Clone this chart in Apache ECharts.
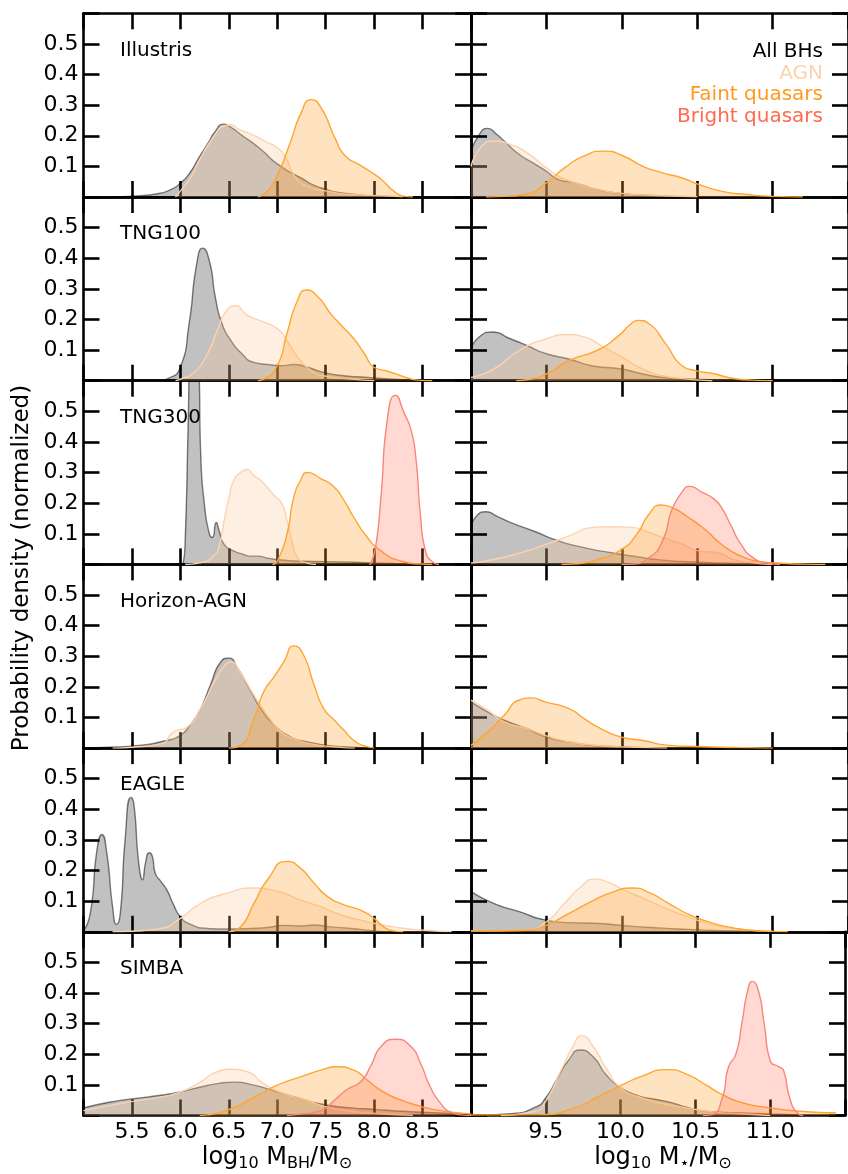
<!DOCTYPE html>
<html>
<head>
<meta charset="utf-8">
<script src="https://cdn.jsdelivr.net/npm/echarts@6/dist/echarts.min.js"></script>
<style>
  html, body { margin: 0; background: #fff; }
  #chart { width: 848px; height: 1174px; }
</style>
</head>
<body>
<div id="chart"></div>
<script>
(function () {
  // panel names, top to bottom
  const simNames = ['Illustris', 'TNG100', 'TNG300', 'Horizon-AGN', 'EAGLE', 'SIMBA'];
  const legendNames = ['All BHs', 'AGN', 'Faint quasars', 'Bright quasars'];
  const bhTicks = [5.5, 6.0, 6.5, 7.0, 7.5, 8.0, 8.5];
  const starTicks = [9.5, 10.0, 10.5, 11.0];
  const yTicks = [0.1, 0.2, 0.3, 0.4, 0.5];

  // ---- Illustris
  const illBhAll = [[5.0,0],[5.3,0.001],[5.5,0.003],[5.75,0.01],[5.9,0.024],[6.0,0.045],[6.1,0.08],[6.19,0.128],[6.3,0.183],[6.35,0.21],[6.45,0.238],[6.52,0.228],[6.62,0.205],[6.83,0.156],[7.0,0.108],[7.24,0.063],[7.45,0.03],[7.76,0.01],[8.1,0.002],[8.5,0]];
  const illBhAgn = [[5.95,0],[6.0,0.02],[6.1,0.06],[6.19,0.117],[6.35,0.2],[6.45,0.232],[6.52,0.236],[6.6,0.222],[6.73,0.205],[6.9,0.178],[7.0,0.161],[7.09,0.128],[7.17,0.073],[7.31,0.035],[7.52,0.019],[7.76,0.008],[8.1,0.004],[8.3,0.001]];
  const illBhFaint = [[6.8,0],[6.9,0.02],[7.0,0.07],[7.14,0.183],[7.24,0.27],[7.35,0.318],[7.45,0.293],[7.6,0.19],[7.7,0.135],[7.85,0.105],[8.0,0.075],[8.1,0.05],[8.2,0.02],[8.3,0.003],[8.4,0]];
  const illStAll = [[9.0,0.145],[9.05,0.2],[9.11,0.224],[9.17,0.205],[9.22,0.183],[9.32,0.139],[9.43,0.106],[9.5,0.084],[9.58,0.057],[9.69,0.046],[9.84,0.024],[10.01,0.011],[10.23,0.004],[10.45,0.001]];
  const illStAgn = [[9.0,0.1],[9.07,0.165],[9.15,0.183],[9.26,0.172],[9.37,0.145],[9.5,0.095],[9.58,0.068],[9.69,0.046],[9.84,0.024],[10.0,0.012],[10.23,0.005],[10.5,0.001]];
  const illStFaint = [[9.1,0],[9.22,0.002],[9.37,0.01],[9.5,0.046],[9.62,0.095],[9.75,0.134],[9.88,0.15],[10.01,0.134],[10.14,0.1],[10.27,0.079],[10.4,0.062],[10.5,0.043],[10.66,0.019],[10.83,0.008],[11.0,0.002],[11.2,0]];

  // ---- TNG100
  const t100BhAll = [[5.8,0],[5.86,0.005],[6.0,0.044],[6.09,0.186],[6.17,0.384],[6.23,0.433],[6.3,0.39],[6.36,0.274],[6.43,0.186],[6.52,0.132],[6.62,0.093],[6.76,0.06],[6.9,0.053],[7.04,0.049],[7.17,0.053],[7.31,0.044],[7.48,0.027],[7.69,0.016],[7.93,0.011],[8.2,0.005],[8.45,0.002],[8.7,0]];
  const t100BhAgn = [[5.95,0],[6.0,0.005],[6.14,0.027],[6.28,0.088],[6.38,0.164],[6.48,0.23],[6.57,0.245],[6.69,0.214],[6.86,0.192],[7.0,0.17],[7.1,0.132],[7.21,0.077],[7.35,0.033],[7.48,0.016],[7.76,0.005],[8.0,0]];
  const t100BhFaint = [[6.8,0],[6.86,0.005],[7.0,0.049],[7.1,0.154],[7.21,0.263],[7.3,0.296],[7.42,0.274],[7.55,0.219],[7.66,0.181],[7.79,0.137],[7.9,0.088],[8.0,0.044],[8.14,0.031],[8.28,0.016],[8.45,0.002],[8.6,0]];
  const t100StAll = [[9.0,0.104],[9.06,0.145],[9.14,0.159],[9.26,0.137],[9.37,0.115],[9.5,0.088],[9.65,0.071],[9.8,0.049],[10.0,0.038],[10.14,0.022],[10.31,0.009],[10.5,0.005],[10.66,0.002],[10.9,0]];
  const t100StAgn = [[9.0,0.011],[9.15,0.038],[9.32,0.099],[9.5,0.137],[9.65,0.151],[9.75,0.143],[9.88,0.11],[10.0,0.077],[10.14,0.038],[10.27,0.016],[10.44,0.005],[10.6,0]];
  const t100StFaint = [[9.3,0],[9.37,0.003],[9.5,0.022],[9.65,0.066],[9.84,0.1],[9.97,0.143],[10.06,0.185],[10.11,0.197],[10.18,0.186],[10.29,0.121],[10.4,0.049],[10.49,0.033],[10.62,0.022],[10.72,0.009],[10.87,0.002],[11.0,0]];

  // ---- TNG300
  const t300BhAll = [[6.0,0],[6.03,0.005],[6.05,0.08],[6.08,0.45],[6.1,0.72],[6.15,0.8],[6.19,0.66],[6.21,0.36],[6.25,0.19],[6.3,0.099],[6.33,0.088],[6.37,0.137],[6.4,0.11],[6.45,0.066],[6.55,0.044],[6.65,0.033],[6.72,0.027],[6.8,0.027],[6.9,0.02],[7.0,0.016],[7.2,0.011],[7.5,0.009],[7.8,0.007],[8.0,0.005],[8.2,0.003],[8.5,0.001]];
  const t300BhAgn = [[6.05,0],[6.2,0.005],[6.35,0.03],[6.4,0.06],[6.45,0.14],[6.5,0.215],[6.55,0.274],[6.62,0.3],[6.69,0.31],[6.76,0.29],[6.83,0.274],[6.97,0.225],[7.05,0.197],[7.1,0.143],[7.16,0.066],[7.21,0.022],[7.3,0.005],[7.4,0]];
  const t300BhFaint = [[6.95,0],[7.0,0.01],[7.1,0.099],[7.17,0.219],[7.24,0.274],[7.31,0.3],[7.45,0.28],[7.59,0.252],[7.69,0.208],[7.79,0.154],[7.93,0.088],[8.07,0.044],[8.28,0.011],[8.45,0.002],[8.6,0]];
  const t300BhBright = [[7.95,0],[7.97,0.005],[8.02,0.066],[8.07,0.219],[8.14,0.482],[8.22,0.552],[8.31,0.494],[8.38,0.44],[8.43,0.35],[8.48,0.154],[8.53,0.044],[8.6,0.009],[8.67,0]];
  const t300StAll = [[9.0,0.12],[9.04,0.16],[9.1,0.172],[9.17,0.158],[9.26,0.137],[9.41,0.11],[9.58,0.077],[9.75,0.055],[9.93,0.038],[10.1,0.025],[10.27,0.014],[10.49,0.008],[10.77,0.003],[11.0,0.001]];
  const t300StAgn = [[9.0,0.005],[9.15,0.016],[9.37,0.044],[9.5,0.066],[9.65,0.093],[9.8,0.12],[9.9,0.123],[10.08,0.12],[10.14,0.112],[10.27,0.088],[10.4,0.066],[10.51,0.044],[10.64,0.038],[10.74,0.016],[10.87,0.005],[11.0,0]];
  const t300StFaint = [[9.6,0],[9.69,0.002],[9.84,0.016],[10.0,0.049],[10.1,0.099],[10.18,0.164],[10.26,0.194],[10.33,0.186],[10.44,0.154],[10.55,0.115],[10.66,0.066],[10.79,0.027],[10.92,0.009],[11.09,0.003],[11.22,0.001],[11.35,0]];
  const t300StBright = [[10.0,0],[10.06,0.001],[10.18,0.022],[10.27,0.077],[10.33,0.175],[10.4,0.236],[10.45,0.255],[10.53,0.236],[10.61,0.214],[10.66,0.186],[10.72,0.131],[10.79,0.066],[10.87,0.022],[10.96,0.005],[11.05,0]];

  // ---- Horizon-AGN
  const horBhAll = [[5.0,0],[5.2,0.002],[5.52,0.007],[5.86,0.025],[6.0,0.042],[6.1,0.075],[6.21,0.129],[6.31,0.206],[6.42,0.283],[6.5,0.294],[6.59,0.261],[6.73,0.184],[6.83,0.129],[6.97,0.075],[7.14,0.036],[7.31,0.02],[7.52,0.009],[7.76,0.003],[8.0,0]];
  const horBhAgn = [[5.3,0],[5.5,0.003],[5.8,0.014],[5.93,0.053],[6.07,0.069],[6.21,0.129],[6.35,0.217],[6.45,0.266],[6.52,0.281],[6.62,0.245],[6.76,0.173],[6.9,0.107],[7.04,0.053],[7.17,0.031],[7.35,0.014],[7.59,0.004],[7.8,0]];
  const horBhFaint = [[6.5,0],[6.62,0.009],[6.76,0.096],[6.86,0.184],[6.97,0.234],[7.07,0.283],[7.17,0.334],[7.27,0.305],[7.38,0.206],[7.48,0.129],[7.59,0.091],[7.69,0.058],[7.79,0.025],[7.9,0.007],[8.0,0]];
  const horStAll = [[9.0,0.151],[9.11,0.118],[9.22,0.091],[9.37,0.064],[9.5,0.036],[9.65,0.02],[9.8,0.009],[10.0,0.004],[10.3,0]];
  const horStAgn = [[9.0,0.157],[9.11,0.124],[9.22,0.086],[9.37,0.064],[9.5,0.04],[9.65,0.02],[9.8,0.01],[10.0,0.004],[10.3,0]];
  const horStFaint = [[9.0,0.009],[9.11,0.053],[9.22,0.107],[9.32,0.157],[9.4,0.164],[9.49,0.151],[9.65,0.129],[9.75,0.096],[9.86,0.064],[10.0,0.036],[10.14,0.025],[10.31,0.009],[10.5,0.005],[10.77,0.002],[11.0,0]];

  // ---- EAGLE
  const eagBhAll = [[5.0,0.003],[5.07,0.06],[5.14,0.269],[5.19,0.318],[5.24,0.258],[5.3,0.082],[5.34,0.024],[5.38,0.06],[5.43,0.302],[5.49,0.439],[5.52,0.417],[5.57,0.225],[5.61,0.17],[5.64,0.225],[5.68,0.258],[5.71,0.247],[5.74,0.192],[5.8,0.164],[5.86,0.137],[5.93,0.088],[6.0,0.049],[6.1,0.025],[6.28,0.011],[6.48,0.009],[6.73,0.011],[6.9,0.014],[7.07,0.021],[7.24,0.019],[7.38,0.022],[7.55,0.016],[7.76,0.011],[8.0,0.003],[8.2,0]];
  const eagBhAgn = [[5.3,0],[5.5,0.002],[5.8,0.011],[6.0,0.044],[6.21,0.093],[6.48,0.126],[6.76,0.143],[6.9,0.139],[7.07,0.126],[7.24,0.104],[7.45,0.082],[7.66,0.055],[7.93,0.033],[8.2,0.016],[8.52,0.005],[8.8,0.001]];
  const eagBhFaint = [[6.5,0],[6.62,0.016],[6.76,0.093],[6.9,0.17],[7.1,0.23],[7.24,0.208],[7.38,0.159],[7.52,0.115],[7.69,0.088],[7.86,0.071],[8.0,0.044],[8.1,0.016],[8.2,0.003],[8.3,0]];
  const eagStAll = [[9.0,0.132],[9.15,0.093],[9.32,0.066],[9.5,0.038],[9.65,0.03],[9.86,0.027],[10.01,0.02],[10.23,0.013],[10.44,0.008],[10.66,0.004],[11.0,0.001]];
  const eagStAgn = [[9.0,0.003],[9.37,0.005],[9.5,0.033],[9.62,0.093],[9.73,0.148],[9.82,0.172],[9.9,0.164],[10.01,0.137],[10.14,0.11],[10.29,0.077],[10.44,0.049],[10.61,0.022],[10.79,0.008],[11.0,0.002]];
  const eagStFaint = [[9.0,0.003],[9.37,0.005],[9.5,0.022],[9.65,0.06],[9.8,0.099],[9.93,0.128],[10.07,0.143],[10.19,0.126],[10.31,0.093],[10.44,0.058],[10.57,0.033],[10.74,0.013],[10.92,0.003],[11.1,0]];

  // ---- SIMBA
  const simBhAll = [[5.0,0.025],[5.28,0.044],[5.52,0.055],[5.8,0.066],[6.0,0.077],[6.21,0.093],[6.38,0.104],[6.55,0.109],[6.76,0.099],[7.0,0.077],[7.24,0.055],[7.48,0.036],[7.76,0.025],[8.0,0.02],[8.28,0.014],[8.62,0.009],[9.0,0.004]];
  const simBhAgn = [[5.0,0.016],[5.28,0.033],[5.52,0.047],[5.8,0.06],[6.0,0.077],[6.21,0.11],[6.38,0.143],[6.52,0.151],[6.69,0.143],[6.86,0.104],[7.07,0.071],[7.31,0.049],[7.48,0.03],[7.76,0.014],[8.1,0.005],[8.4,0.001]];
  const simBhFaint = [[6.2,0],[6.28,0.002],[6.52,0.022],[6.76,0.06],[7.0,0.099],[7.24,0.126],[7.45,0.148],[7.62,0.159],[7.79,0.148],[7.93,0.115],[8.07,0.082],[8.24,0.055],[8.48,0.03],[8.69,0.016],[9.0,0.005]];
  const simBhBright = [[7.1,0],[7.17,0.002],[7.45,0.016],[7.59,0.05],[7.72,0.085],[7.86,0.11],[7.97,0.165],[8.07,0.225],[8.22,0.249],[8.38,0.225],[8.48,0.17],[8.58,0.093],[8.69,0.038],[8.79,0.011],[8.9,0.002],[9.0,0]];
  const simStAll = [[9.0,0.001],[9.26,0.006],[9.43,0.027],[9.5,0.058],[9.58,0.124],[9.65,0.179],[9.73,0.214],[9.82,0.19],[9.9,0.135],[10.0,0.091],[10.12,0.064],[10.23,0.053],[10.34,0.042],[10.44,0.027],[10.57,0.014],[10.77,0.009],[11.0,0.005],[11.2,0.002]];
  const simStAgn = [[9.2,0],[9.43,0.014],[9.5,0.047],[9.6,0.146],[9.68,0.223],[9.74,0.261],[9.82,0.223],[9.9,0.157],[10.0,0.091],[10.14,0.058],[10.31,0.036],[10.44,0.025],[10.61,0.012],[10.83,0.005],[11.0,0]];
  const simStFaint = [[9.0,0.002],[9.47,0.003],[9.69,0.025],[9.86,0.064],[10.01,0.1],[10.14,0.128],[10.31,0.15],[10.44,0.135],[10.57,0.1],[10.68,0.068],[10.81,0.042],[11.0,0.025],[11.2,0.014],[11.44,0.009]];
  const simStBright = [[10.55,0],[10.61,0.003],[10.68,0.058],[10.72,0.157],[10.77,0.2],[10.81,0.299],[10.85,0.409],[10.88,0.438],[10.92,0.409],[10.96,0.299],[11.0,0.179],[11.06,0.159],[11.09,0.146],[11.13,0.058],[11.18,0.009],[11.22,0]];

  // [all, agn, faint, bright] per row, for the BH-mass and stellar-mass columns
  const bhPanels = [
    [illBhAll, illBhAgn, illBhFaint, null],
    [t100BhAll, t100BhAgn, t100BhFaint, null],
    [t300BhAll, t300BhAgn, t300BhFaint, t300BhBright],
    [horBhAll, horBhAgn, horBhFaint, null],
    [eagBhAll, eagBhAgn, eagBhFaint, null],
    [simBhAll, simBhAgn, simBhFaint, simBhBright]
  ];
  const starPanels = [
    [illStAll, illStAgn, illStFaint, null],
    [t100StAll, t100StAgn, t100StFaint, null],
    [t300StAll, t300StAgn, t300StFaint, t300StBright],
    [horStAll, horStAgn, horStFaint, null],
    [eagStAll, eagStAgn, eagStFaint, null],
    [simStAll, simStAgn, simStFaint, simStBright]
  ];

  const FONT = 'DejaVu Sans';
  const lineColors = ['rgba(0,0,0,0.5)', '#fcd3b0', '#ffa530', '#f8877a'];
  const fillColors = ['rgba(0,0,0,0.35)', 'rgba(250,196,154,0.4)', 'rgba(255,160,40,0.42)', 'rgba(255,99,71,0.35)'];
  const textColors = ['#000000', '#fdd3ae', '#ff9a1f', '#ff6a50'];

  const ROW_TOP = 13.3, ROW_H = 183.7;
  const cols = [
    { left: 83.5, width: 387.5, min: 5.0, max: 9.0, ticks: bhTicks, panels: bhPanels },
    { left: 471, width: 386.7, min: 9.0, max: 11.5, ticks: starTicks, panels: starPanels }
  ];

  const grid = [], xAxis = [], yAxis = [], series = [];
  const axisLine = { show: true, onZero: false, lineStyle: { color: '#000', width: 2.6 } };
  const axisTick = { show: true, inside: true, length: 16, lineStyle: { color: '#000', width: 2.6 } };
  const labelBase = { color: '#000', fontFamily: FONT, fontSize: 22 };

  for (let r = 0; r < 6; r++) {
    for (let c = 0; c < 2; c++) {
      const col = cols[c];
      const g = grid.length;
      grid.push({ left: col.left, width: col.width, top: ROW_TOP + r * ROW_H, height: ROW_H });
      ['bottom', 'top'].forEach((pos) => {
        xAxis.push({
          type: 'value', gridIndex: g, position: pos, min: col.min, max: col.max, interval: 0.5,
          axisLine, axisTick, splitLine: { show: false },
          axisLabel: Object.assign({
            show: pos === 'bottom' && r === 5, margin: 6,
            formatter: (v) => col.ticks.some((t) => Math.abs(t - v) < 1e-6) ? v.toFixed(1) : ''
          }, labelBase)
        });
      });
      ['left', 'right'].forEach((pos) => {
        yAxis.push({
          type: 'value', gridIndex: g, position: pos, min: 0, max: 0.6, interval: 0.1,
          axisLine, axisTick, splitLine: { show: false },
          axisLabel: Object.assign({
            show: pos === 'left' && c === 0, margin: 5,
            formatter: (v) => yTicks.some((t) => Math.abs(t - v) < 1e-6) ? v.toFixed(1) : ''
          }, labelBase)
        });
      });
      col.panels[r].forEach((data, k) => {
        if (!data) return;
        series.push({
          type: 'line', xAxisIndex: 2 * g, yAxisIndex: 2 * g, data,
          smooth: 0.6, symbol: 'none', silent: true, z: 2 + k,
          lineStyle: { color: lineColors[k], width: 1.4 },
          areaStyle: { color: fillColors[k], origin: 'start' }
        });
      });
    }
  }

  const graphic = [];
  simNames.forEach((name, r) => {
    graphic.push({
      type: 'text', left: 120, top: ROW_TOP + r * ROW_H + 27, z: 50,
      style: { text: name, fill: '#000', font: `20px "${FONT}"` }
    });
  });
  legendNames.forEach((name, i) => {
    graphic.push({
      type: 'text', z: 50,
      style: { text: name, x: 823, y: 52 + i * 21.5, align: 'right', verticalAlign: 'middle', fill: textColors[i], font: `20px "${FONT}"` }
    });
  });
  graphic.push({
    type: 'text', z: 50, x: 22, y: 568, rotation: Math.PI / 2,
    style: { text: 'Probability density (normalized)', align: 'center', verticalAlign: 'middle', fill: '#000', font: `23px "${FONT}"` }
  });
  const rich = {
    a: { fontSize: 24, fontFamily: FONT, color: '#000', lineHeight: 28 },
    s: { fontSize: 16, fontFamily: FONT, color: '#000', lineHeight: 10, verticalAlign: 'bottom' }
  };
  graphic.push({
    type: 'text', z: 50, x: 277, y: 1158,
    style: { text: '{a|log}{s|10}{a| M}{s|BH}{a|/M}{s|⊙}', rich, align: 'center', verticalAlign: 'middle' }
  });
  graphic.push({
    type: 'text', z: 50, x: 663, y: 1158,
    style: { text: '{a|log}{s|10}{a| M}{s|⋆}{a|/M}{s|⊙}', rich, align: 'center', verticalAlign: 'middle' }
  });

  const chart = echarts.init(document.getElementById('chart'), null, { renderer: 'canvas' });
  chart.setOption({ animation: false, backgroundColor: '#fff', grid, xAxis, yAxis, series, graphic });
})();
</script>
</body>
</html>
